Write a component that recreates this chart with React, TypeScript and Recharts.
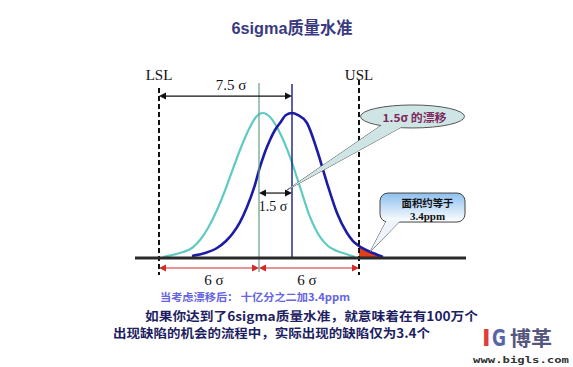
import { ComposedChart, Line, Area, XAxis, YAxis, ReferenceLine, ReferenceDot } from 'recharts'

// x in (drawn) sigma units from the target, y as share of peak height
const tealX = [-5.76, -5.22, -4.56, -4.02, -3.54, -3.06, -2.52, -2.1, -1.74, -1.14, -0.54, -0.18, 0.24, 0.66, 1.26, 1.86, 2.46, 3.06, 3.66, 4.14, 4.68, 5.22, 5.76]
const tealY = [0.007, 0.02, 0.041, 0.069, 0.124, 0.207, 0.331, 0.448, 0.559, 0.745, 0.903, 0.972, 1, 0.972, 0.862, 0.697, 0.49, 0.283, 0.145, 0.083, 0.048, 0.028, 0.007]

const blueX = [-4.02, -3.24, -2.52, -1.98, -1.56, -1.14, -0.72, -0.3, 0.06, 0.36, 0.66, 0.96, 1.26, 1.62, 1.98, 2.34, 2.88, 3.48, 4.08, 4.68, 5.28, 5.64, 6.0, 6.42, 6.84, 7.44]
const blueY = [0.014, 0.034, 0.069, 0.117, 0.172, 0.248, 0.352, 0.483, 0.628, 0.731, 0.814, 0.883, 0.931, 0.986, 1, 0.986, 0.931, 0.745, 0.517, 0.31, 0.172, 0.117, 0.083, 0.055, 0.034, 0.007]

// defect tail beyond USL
const tailX = [6.0, 6.42, 6.84, 7.44]
const tailY = [0.083, 0.055, 0.034, 0.007]

const LSL = -6
const USL = 6
const TARGET = 0
const SHIFTED = 1.98

// one table for the chart, keyed by x
const allX = Array.from(new Set([...tealX, ...blueX, ...tailX])).sort((a, b) => a - b)
const chartData = allX.map((x) => {
  const row: any = { x }
  const ti = tealX.indexOf(x)
  const bi = blueX.indexOf(x)
  const ai = tailX.indexOf(x)
  if (ti >= 0) row.teal = tealY[ti]
  if (bi >= 0) row.blue = blueY[bi]
  if (ai >= 0) row.tail = tailY[ai]
  return row
})

const X_DOMAIN: [number, number] = [-15.54, 18.84]
const Y_DOMAIN: [number, number] = [-0.7517, 1.7793]

const serif = 'Liberation Serif, DejaVu Serif, serif'
const cjk = '"Noto Sans CJK SC", sans-serif'

const textShape = (text: string, style: any) => (props: any) => (
  <text x={props.cx} y={props.cy} textAnchor="middle" dominantBaseline="central" {...style}>
    {text}
  </text>
)

const arrowShape = (color: string, width: number) => (props: any) => {
  const { x1, y1, x2, y2 } = props
  const s = 7
  const h = 3.5
  return (
    <g>
      <line x1={x1 + 2} y1={y1} x2={x2 - 2} y2={y2} stroke={color} strokeWidth={width} />
      <polygon points={`${x1},${y1} ${x1 + s},${y1 - h} ${x1 + s},${y1 + h}`} fill={color} />
      <polygon points={`${x2},${y2} ${x2 - s},${y2 - h} ${x2 - s},${y2 + h}`} fill={color} />
    </g>
  )
}

const EllipseCallout = (props: any) => {
  const { x1, y1, x2, y2 } = props
  const pts = `${x1 - 30},${y1 + 8} ${x2},${y2} ${x1 - 10},${y1 + 10}`
  return (
    <g>
      <polygon points={pts} fill="#cfe4e4" stroke="#555" strokeWidth={1} />
      <ellipse cx={x1} cy={y1} rx={52} ry={11.5} fill="#cfe4e4" stroke="#555" strokeWidth={1} />
      <polygon points={pts} fill="#cfe4e4" />
      <text x={x1 + 2} y={y1 + 1} textAnchor="middle" dominantBaseline="central" fill="#7a2a5c" fontFamily={cjk} fontWeight={700} fontSize={11} textLength={64} lengthAdjust="spacingAndGlyphs">
        1.5σ 的漂移
      </text>
    </g>
  )
}

const BoxCallout = (props: any) => {
  const { x1, y1, x2, y2 } = props
  const pts = `${x1 - 36},${y1 + 13} ${x2},${y2} ${x1 - 22},${y1 + 13}`
  return (
    <g>
      <polygon points={pts} fill="#eef4fb" stroke="#444" strokeWidth={1} />
      <rect x={x1 - 42.5} y={y1 - 14.5} width={85} height={29} rx={8} fill="url(#boxGrad)" stroke="#444" strokeWidth={1} />
      <polygon points={pts} fill="#eef4fb" />
      <text x={x1 + 5} y={y1 - 5} textAnchor="middle" dominantBaseline="central" fill="#111" fontFamily={cjk} fontWeight={700} fontSize={10.5} textLength={52} lengthAdjust="spacingAndGlyphs">
        面积约等于
      </text>
      <text x={x1 + 5} y={y1 + 8.5} textAnchor="middle" dominantBaseline="central" fill="#111" fontFamily={serif} fontWeight={700} fontSize={11}>
        3.4ppm
      </text>
    </g>
  )
}

export default function App() {
  return (
    <div style={{ position: 'absolute', left: 0, top: 0, width: 573, height: 367, background: '#fff' }}>
      <ComposedChart width={573} height={367} data={chartData} margin={{ top: 0, right: 0, bottom: 0, left: 0 }}>
        <defs>
          <linearGradient id="boxGrad" x1="0" y1="0" x2="0" y2="1">
            <stop offset="0%" stopColor="#8dbfee" />
            <stop offset="100%" stopColor="#ffffff" />
          </linearGradient>
        </defs>
        <XAxis type="number" dataKey="x" domain={X_DOMAIN} allowDataOverflow hide />
        <YAxis type="number" domain={Y_DOMAIN} allowDataOverflow hide />

        <Area dataKey="tail" type="monotone" stroke="none" fill="#e2401a" fillOpacity={1} baseValue={0} dot={false} activeDot={false} isAnimationActive={false} />
        <Line dataKey="teal" type="monotone" connectNulls stroke="#5ecbc0" strokeWidth={2.2} dot={false} activeDot={false} isAnimationActive={false} />
        <Line dataKey="blue" type="monotone" connectNulls stroke="#1c1ca6" strokeWidth={2.6} dot={false} activeDot={false} isAnimationActive={false} />

        {/* spec limits and centre lines */}
        <ReferenceLine segment={[{ x: LSL, y: 1.172 }, { x: LSL, y: -0.117 }]} stroke="#111" strokeWidth={2} strokeDasharray="5 3" />
        <ReferenceLine segment={[{ x: USL, y: 1.228 }, { x: USL, y: -0.117 }]} stroke="#111" strokeWidth={2} strokeDasharray="5 3" />
        <ReferenceLine segment={[{ x: TARGET, y: 1.207 }, { x: TARGET, y: -0.097 }]} stroke="#5f9f84" strokeWidth={1.2} />
        <ReferenceLine segment={[{ x: SHIFTED, y: 1.2 }, { x: SHIFTED, y: 0 }]} stroke="#1a1a8a" strokeWidth={1.4} />
        <ReferenceLine segment={[{ x: -7.44, y: 0 }, { x: 12.42, y: 0 }]} stroke="#2a2a2a" strokeWidth={3} />

        {/* dimension arrows */}
        <ReferenceLine segment={[{ x: LSL, y: 1.117 }, { x: SHIFTED, y: 1.117 }]} shape={arrowShape('#111', 1.2)} />
        <ReferenceLine segment={[{ x: TARGET, y: 0.448 }, { x: SHIFTED, y: 0.448 }]} shape={arrowShape('#111', 1.2)} />
        <ReferenceLine segment={[{ x: LSL, y: -0.069 }, { x: TARGET, y: -0.069 }]} shape={arrowShape('#d42a2a', 1.2)} />
        <ReferenceLine segment={[{ x: TARGET, y: -0.069 }, { x: USL, y: -0.069 }]} shape={arrowShape('#d42a2a', 1.2)} />

        {/* callouts */}
        <ReferenceLine segment={[{ x: 9.21, y: 0.976 }, { x: 1.68, y: 0.469 }]} shape={EllipseCallout} />
        <ReferenceLine segment={[{ x: 9.81, y: 0.348 }, { x: 6.66, y: 0.041 }]} shape={BoxCallout} />

        {/* labels */}
        <ReferenceDot x={LSL} y={1.262} shape={textShape('LSL', { fontFamily: serif, fontSize: 15, fill: '#111' })} />
        <ReferenceDot x={USL} y={1.262} shape={textShape('USL', { fontFamily: serif, fontSize: 15, fill: '#111' })} />
        <ReferenceDot x={-1.68} y={1.193} shape={textShape('7.5 σ', { fontFamily: serif, fontSize: 15, fill: '#111' })} />
        <ReferenceDot x={0.84} y={0.352} shape={textShape('1.5 σ', { fontFamily: serif, fontSize: 14, fill: '#111' })} />
        <ReferenceDot x={-2.7} y={-0.15} shape={textShape('6 σ', { fontFamily: serif, fontSize: 15, fill: '#111' })} />
        <ReferenceDot x={2.88} y={-0.15} shape={textShape('6 σ', { fontFamily: serif, fontSize: 15, fill: '#111' })} />
      </ComposedChart>

      <svg width={573} height={367} style={{ position: 'absolute', left: 0, top: 0, pointerEvents: 'none' }}>
        <text x={292} y={34} textAnchor="middle" fill="#393a80" fontFamily={'Liberation Sans, ' + cjk} fontWeight={700} fontSize={17} textLength={121} lengthAdjust="spacingAndGlyphs">
          6sigma质量水准
        </text>
        <text x={160} y={301} fill="#6464e4" fontFamily={cjk} fontWeight={700} fontSize={10.5} textLength={190} lengthAdjust="spacingAndGlyphs">
          当考虑漂移后： 十亿分之二加3.4ppm
        </text>
        <text x={145} y={321} fill="#1e1e62" fontFamily={cjk} fontWeight={700} fontSize={12.5} textLength={333} lengthAdjust="spacingAndGlyphs">
          如果你达到了6sigma质量水准，就意味着在有100万个
        </text>
        <text x={113} y={338} fill="#1e1e62" fontFamily={cjk} fontWeight={700} fontSize={12.5} textLength={317} lengthAdjust="spacingAndGlyphs">
          出现缺陷的机会的流程中，实际出现的缺陷仅为3.4个
        </text>
        <text x={482} y={346} fill="#e03c3c" fontFamily="DejaVu Sans, sans-serif" fontWeight={700} fontSize={23}>
          I
        </text>
        <text x={492} y={346} fill="#5866a8" fontFamily="DejaVu Sans, sans-serif" fontWeight={700} fontSize={23} textLength={14} lengthAdjust="spacingAndGlyphs">
          G
        </text>
        <text x={510} y={346} fill="#55577e" fontFamily={cjk} fontWeight={700} fontSize={20} textLength={42} lengthAdjust="spacingAndGlyphs">
          博革
        </text>
        <text x={473} y={363} fill="#333" fontFamily="DejaVu Sans Mono, monospace" fontWeight={700} fontSize={9.5} textLength={96} lengthAdjust="spacingAndGlyphs">
          www.bigls.com
        </text>
      </svg>
    </div>
  )
}
